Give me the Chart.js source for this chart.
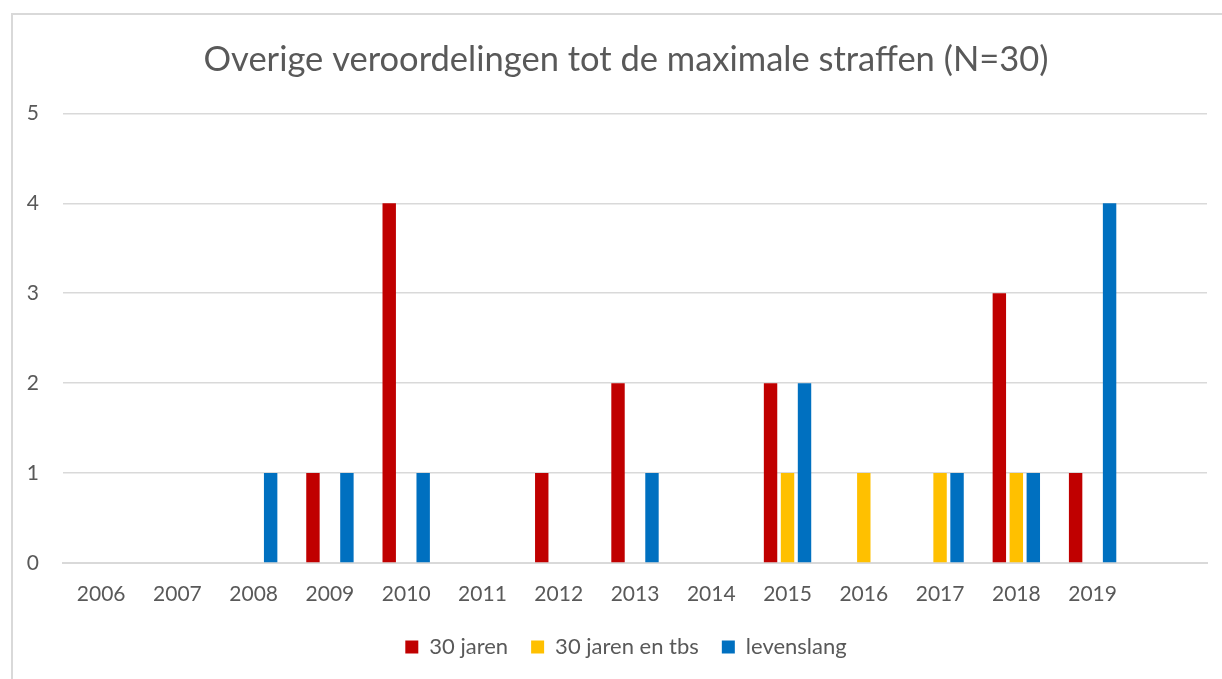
<!DOCTYPE html>
<html>
<head>
<meta charset="utf-8">
<script src="https://cdn.jsdelivr.net/npm/chart.js@4"></script>
<style>
  html, body { margin: 0; padding: 0; background: #fff; overflow: hidden; }
  #rand { position: absolute; left: 11px; top: 13px; width: 1300px; height: 700px;
          border-left: 2px solid #d9d9d9; border-top: 2px solid #d9d9d9; }
  #wrap { position: absolute; left: 0; top: 0; width: 1260px; height: 679px; }
</style>
</head>
<body>
<div id="rand"></div>
<div id="wrap"><canvas id="grafiek"></canvas></div>
<script>
// jaren op de x-as (laatste vak is leeg)
const jaren = ['2006', '2007', '2008', '2009', '2010', '2011', '2012', '2013', '2014', '2015', '2016', '2017', '2018', '2019', ''];

// aantallen per jaar
const dertigJaren    = [null, null, null, 1, 4, null, 1, 2, null, 2, null, null, 3, 1, null];
const dertigJarenTbs = [null, null, null, null, null, null, null, null, null, 1, 1, 1, 1, null, null];
const levenslang     = [null, null, 1, 1, 1, null, null, 1, null, 2, null, 1, 1, 4, null];

const yTicks = [0, 1, 2, 3, 4, 5];

const grijs = '#595959';
const lettertype = "'Lato', 'Open Sans', sans-serif";

const ctx = document.getElementById('grafiek').getContext('2d');
new Chart(ctx, {
    type: 'bar',
    data: {
        labels: jaren,
        datasets: [
            { label: '30 jaren', data: dertigJaren, backgroundColor: '#C00000' },
            { label: '30 jaren en tbs', data: dertigJarenTbs, backgroundColor: '#FFC000' },
            { label: 'levenslang', data: levenslang, backgroundColor: '#0070C0' }
        ]
    },
    options: {
        responsive: true,
        maintainAspectRatio: false,
        animation: false,
        categoryPercentage: 0.668,
        barPercentage: 0.79,
        layout: { padding: { left: 13, right: 21, top: 0, bottom: 11 } },
        plugins: {
            title: {
                display: true,
                text: 'Overige veroordelingen tot de maximale straffen (N=30)',
                color: grijs,
                font: { family: lettertype, size: 34.5, weight: 'normal' },
                padding: { top: 39, bottom: 33 }
            },
            legend: {
                position: 'bottom',
                labels: {
                    color: grijs,
                    font: { family: lettertype, size: 22 },
                    boxWidth: 13,
                    boxHeight: 13,
                    padding: 23
                }
            },
            tooltip: { enabled: false }
        },
        scales: {
            x: {
                grid: { display: false },
                border: { display: true, color: '#d9d9d9', width: 2 },
                ticks: { color: grijs, font: { family: lettertype, size: 21 }, padding: 11, maxRotation: 0, autoSkip: false },
                afterFit: s => { s.height = 50; }
            },
            y: {
                min: 0,
                max: 5,
                afterBuildTicks: s => { s.ticks = yTicks.map(v => ({ value: v })); },
                grid: { color: '#d9d9d9', lineWidth: 1.5, drawTicks: false },
                border: { display: false },
                ticks: { color: grijs, font: { family: lettertype, size: 21 }, padding: 24 },
                afterFit: s => { s.width = 50; }
            },
            // lege ruimte rechts van het plotvlak
            rechts: {
                position: 'right',
                min: 0,
                max: 5,
                grid: { display: false, drawOnChartArea: false },
                border: { display: false },
                ticks: { display: false },
                afterFit: s => { s.width = 32; }
            }
        }
    }
});
</script>
</body>
</html>
